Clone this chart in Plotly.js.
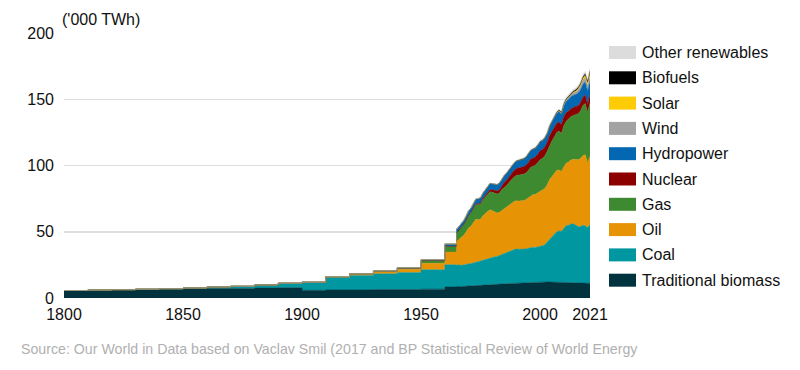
<!DOCTYPE html>
<html>
<head>
<meta charset="utf-8">
<script src="https://cdn.plot.ly/plotly-3.0.1.min.js"></script>
<style>
html,body{margin:0;padding:0;background:#fff;}
#chart{width:800px;height:370px;}
</style>
</head>
<body>
<div id="chart"></div>
<script>
// Years: decade values to 1960, then annual from 1965
const years = [1800,1810,1820,1830,1840,1850,1860,1870,1880,1890,1900,1910,1920,1930,1940,1950,1960,
1965,1966,1967,1968,1969,1970,1971,1972,1973,1974,1975,1976,1977,1978,1979,1980,1981,1982,1983,1984,
1985,1986,1987,1988,1989,1990,1991,1992,1993,1994,1995,1996,1997,1998,1999,2000,2001,2002,2003,2004,
2005,2006,2007,2008,2009,2010,2011,2012,2013,2014,2015,2016,2017,2018,2019,2020,2021];

// Values in '000 TWh
const traditionalBiomass = [5.56,5.83,6.11,6.39,6.67,6.94,7.22,7.22,7.50,7.78,5.83,6.11,6.11,6.39,6.39,6.67,8.33,
8.50,8.58,8.67,8.75,8.86,8.97,9.08,9.19,9.31,9.42,9.53,9.64,9.75,9.86,9.97,10.08,10.19,10.31,10.42,10.53,
10.64,10.75,10.86,10.97,11.08,11.19,11.31,11.42,11.53,11.64,11.75,11.86,11.97,12.08,12.19,12.22,12.22,12.19,12.14,12.08,
12.03,11.97,11.92,11.86,11.81,11.75,11.69,11.64,11.58,11.53,11.47,11.39,11.31,11.22,11.14,11.11,11.11];

const coal = [0.10,0.13,0.15,0.26,0.36,0.57,1.06,1.64,2.30,3.30,5.90,9.40,10.90,11.90,12.80,14.70,16.80,
16.14,16.36,15.96,16.29,16.80,17.17,17.00,17.20,17.65,17.70,18.01,18.70,19.30,19.60,20.40,20.80,20.90,21.10,21.70,22.60,
23.50,23.80,24.60,25.10,25.40,25.90,25.40,25.30,25.30,25.40,25.80,26.30,26.30,26.10,26.30,27.00,27.30,28.00,30.10,32.30,
34.30,36.20,38.10,38.80,38.50,40.70,43.00,43.30,44.30,44.50,43.40,42.50,42.70,43.60,43.40,42.00,44.50];

const oil = [0,0,0,0,0,0,0,0.01,0.03,0.08,0.18,0.45,1.00,1.50,2.50,4.80,9.50,
18.1,19.4,20.7,22.4,24.3,26.7,28.1,30.1,32.5,32.0,31.8,33.7,34.9,35.9,36.3,34.9,33.6,32.7,32.6,33.2,
33.2,34.1,34.7,35.7,36.2,36.4,36.4,36.7,36.6,37.2,37.8,38.8,39.7,40.0,40.9,41.7,42.0,42.4,43.1,44.8,
45.3,45.8,46.3,46.0,45.2,46.5,47.0,47.7,48.2,48.6,49.4,50.4,51.3,52.6,53.6,48.7,51.2];

const gas = [0,0,0,0,0,0,0,0,0,0.02,0.06,0.19,0.24,0.55,0.75,2.09,4.40,
6.5,7.0,7.5,8.1,8.8,9.6,10.1,10.6,11.1,11.3,11.4,12.0,12.3,12.8,13.6,14.0,14.2,14.3,14.5,15.6,
16.1,16.3,17.1,17.8,18.5,19.0,19.5,19.6,19.9,20.0,20.6,21.6,21.6,22.0,22.6,23.5,23.8,24.5,25.3,26.2,
26.9,27.6,28.6,29.3,28.7,31.0,31.7,32.5,32.8,33.1,33.9,34.7,35.8,37.8,38.6,38.1,40.4];

const nuclear = [0,0,0,0,0,0,0,0,0,0,0,0,0,0,0,0,0,
0.07,0.10,0.11,0.14,0.17,0.22,0.30,0.41,0.55,0.69,1.00,1.14,1.36,1.59,1.66,1.86,2.17,2.36,2.70,3.24,
3.84,4.12,4.42,4.76,4.90,5.18,5.42,5.46,5.68,5.80,6.02,6.21,6.15,6.29,6.52,6.66,6.83,6.90,6.79,7.04,
7.06,7.10,6.86,6.79,6.69,6.80,6.53,6.01,6.04,6.13,6.14,6.18,6.21,6.30,6.41,6.15,6.35];

const hydropower = [0,0,0,0,0,0,0,0,0,0,0.01,0.03,0.06,0.12,0.40,0.70,1.70,
2.60,2.75,2.84,2.95,3.12,3.24,3.38,3.52,3.58,3.89,3.95,3.99,4.11,4.37,4.56,4.62,4.69,4.79,4.97,5.11,
5.20,5.28,5.35,5.52,5.51,5.66,5.83,5.79,6.06,6.11,6.42,6.50,6.60,6.62,6.66,6.83,6.72,6.80,6.79,7.14,
7.37,7.59,7.63,7.94,7.95,8.43,8.53,8.86,9.09,9.23,9.26,9.55,9.60,9.85,9.93,10.26,10.00];

const wind = [0,0,0,0,0,0,0,0,0,0,0,0,0,0,0,0,0,
0,0,0,0,0,0,0,0,0,0,0,0,0,0,0,0,0,0,0,0,
0,0,0,0,0,0.01,0.01,0.01,0.02,0.02,0.02,0.03,0.03,0.04,0.06,0.09,0.10,0.14,0.17,0.23,
0.27,0.35,0.45,0.58,0.73,0.90,1.10,1.30,1.55,1.77,2.10,2.40,2.78,3.07,3.39,3.86,4.56];

const solar = [0,0,0,0,0,0,0,0,0,0,0,0,0,0,0,0,0,
0,0,0,0,0,0,0,0,0,0,0,0,0,0,0,0,0,0,0,0,
0,0,0,0,0,0,0,0,0,0,0,0,0,0,0,0,0,0,0,0,
0.01,0.02,0.02,0.03,0.05,0.09,0.17,0.25,0.35,0.47,0.62,0.81,1.10,1.41,1.70,2.02,2.52];

const biofuels = [0,0,0,0,0,0,0,0,0,0,0,0,0,0,0,0,0,
0,0,0,0,0,0,0,0,0,0,0.01,0.01,0.02,0.03,0.04,0.05,0.05,0.07,0.08,0.09,
0.10,0.10,0.10,0.10,0.10,0.10,0.10,0.10,0.10,0.10,0.10,0.10,0.10,0.10,0.11,0.11,0.12,0.14,0.17,0.19,
0.22,0.30,0.38,0.50,0.56,0.64,0.65,0.67,0.72,0.79,0.83,0.87,0.93,1.02,1.10,1.00,1.07];

const otherRenewables = [0,0,0,0,0,0,0,0,0,0,0,0,0,0,0,0,0,
0.08,0.09,0.09,0.10,0.10,0.11,0.12,0.12,0.13,0.14,0.15,0.16,0.17,0.18,0.19,0.21,0.24,0.27,0.30,0.34,
0.38,0.40,0.43,0.46,0.50,0.52,0.54,0.56,0.58,0.60,0.62,0.64,0.66,0.67,0.69,0.71,0.72,0.75,0.78,0.82,
0.86,0.90,0.94,0.99,1.05,1.15,1.23,1.32,1.41,1.50,1.58,1.65,1.73,1.81,1.88,1.98,2.06];

const seriesNames = ["Traditional biomass","Coal","Oil","Gas","Nuclear","Hydropower","Wind","Solar","Biofuels","Other renewables"];
const seriesValues = [traditionalBiomass,coal,oil,gas,nuclear,hydropower,wind,solar,biofuels,otherRenewables];
const seriesColors = ["#01333f","#0097a1","#e69406","#3e8a30","#8c0000","#0367b1","#a3a3a3","#ffcb05","#000000","#dcdcdc"];

const xTicks = [1800,1850,1900,1950,2000,2021];
const yTicks = [0,50,100,150,200];

// decade data drawn as steps (running one point into the annual part so the join is hidden),
// annual data from 1965 drawn as lines on top
const splitIdx = years.indexOf(1965);
const traces = [];
seriesNames.forEach((n,i)=>{
  traces.push({type:'scatter', mode:'lines', name:n,
    x:years.slice(0,splitIdx+2), y:seriesValues[i].slice(0,splitIdx+2),
    stackgroup:'decades', fillcolor:seriesColors[i],
    line:{width:0.5, shape:'hv', color:seriesColors[i]}, hoverinfo:'skip', showlegend:false});
});
seriesNames.forEach((n,i)=>{
  traces.push({type:'scatter', mode:'lines', name:n,
    x:years.slice(splitIdx), y:seriesValues[i].slice(splitIdx),
    stackgroup:'annual', fillcolor:seriesColors[i],
    line:{width:0.5, shape:'linear', color:seriesColors[i]}, hoverinfo:'skip', showlegend:false});
});

// plot area in pixels
const L=64, R=590, T=33, B=298, W=800, H=370;
const px2x = p => (p-L)/(R-L);
const py2y = p => (B-p)/(B-T);
const FONT = 'Liberation Sans, Arial, sans-serif';

const shapes=[], annotations=[];
// custom legend: top item = last series
for(let k=0;k<seriesNames.length;k++){
  const i = seriesNames.length-1-k;
  const cy = 52.5 + k*25.3;
  shapes.push({type:'rect', xref:'paper', yref:'paper',
    x0:px2x(609), x1:px2x(636), y0:py2y(cy+6.5), y1:py2y(cy-6.5),
    fillcolor:seriesColors[i], line:{width:0}});
  annotations.push({xref:'paper', yref:'paper', x:px2x(640), y:py2y(cy),
    xanchor:'left', yanchor:'middle', showarrow:false, text:seriesNames[i],
    font:{family:FONT, size:16, color:'#111'}});
}
annotations.push({xref:'paper', yref:'paper', x:px2x(60), y:py2y(19), xanchor:'left', yanchor:'middle',
  showarrow:false, text:"('000 TWh)", font:{family:FONT, size:16, color:'#111'}});
annotations.push({xref:'paper', yref:'paper', x:px2x(19), y:py2y(349), xanchor:'left', yanchor:'middle',
  showarrow:false, text:"Source: Our World in Data based on Vaclav Smil (2017 and BP Statistical Review of World Energy",
  font:{family:FONT, size:14.2, color:'#b0b0b0'}});

const layout = {
  width:W, height:H,
  margin:{l:L, r:W-R, t:T, b:H-B, pad:0},
  paper_bgcolor:'#fff', plot_bgcolor:'#fff',
  font:{family:FONT, size:16, color:'#111'},
  xaxis:{range:[1800,2021], tickvals:xTicks, ticktext:xTicks.map(String), showgrid:false, zeroline:false,
    showline:false, ticks:'', tickfont:{size:16, color:'#111'}, ticklabelstandoff:5, fixedrange:true},
  yaxis:{range:[0,200], tickvals:yTicks, showgrid:true, gridcolor:'#dedede', gridwidth:1.5, zeroline:false,
    showline:false, ticks:'', tickfont:{size:16, color:'#111'}, ticklabelstandoff:9, fixedrange:true},
  shapes:shapes, annotations:annotations, showlegend:false
};

Plotly.newPlot('chart', traces, layout, {displayModeBar:false, staticPlot:true});
</script>
</body>
</html>
